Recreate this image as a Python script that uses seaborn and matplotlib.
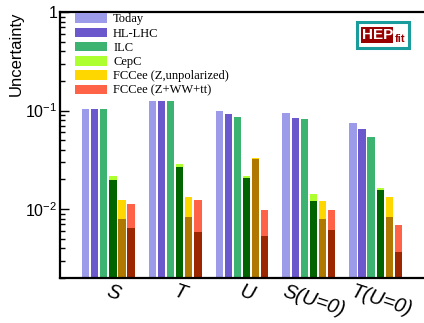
import numpy as np
import pandas as pd
import matplotlib
matplotlib.use("Agg")
import matplotlib.pyplot as plt
import matplotlib.ticker as mticker
from matplotlib.patches import Rectangle
from matplotlib.transforms import ScaledTranslation
import seaborn as sns

# --- data ---
params = ["S", "T", "U", "S(U=0)", "T(U=0)"]
series = ["Today", "HL-LHC", "ILC", "CepC",
          "FCCee (Z,unpolarized)", "FCCee (Z+WW+tt)"]

today = [0.103, 0.125, 0.098, 0.094, 0.074]
hl_lhc = [0.103, 0.125, 0.092, 0.084, 0.0655]
ilc = [0.103, 0.125, 0.086, 0.0815, 0.0534]
cepc_tot = [0.0219, 0.029, 0.0215, 0.0143, 0.0164]
cepc_par = [0.0196, 0.0268, 0.0205, 0.0122, 0.0155]
fccz_tot = [0.0124, 0.0134, 0.0331, 0.0122, 0.0134]
fccz_par = [0.0080, 0.0083, 0.0320, 0.0080, 0.0083]
fccall_tot = [0.0113, 0.0124, 0.0098, 0.0097, 0.0069]
fccall_par = [0.0064, 0.0059, 0.0053, 0.0061, 0.0037]

light = ["#9b9bea", "#6a58cc", "#3cb371", "#adff2f", "#ffd700", "#ff6347"]
dark = ["#9b9bea", "#6a58cc", "#3cb371", "#006400", "#b07800", "#9c2600"]

tot = pd.DataFrame({
    "param": params * 6,
    "series": np.repeat(series, len(params)),
    "value": today + hl_lhc + ilc + cepc_tot + fccz_tot + fccall_tot,
})
par = pd.DataFrame({
    "param": params * 6,
    "series": np.repeat(series, len(params)),
    "value": today + hl_lhc + ilc + cepc_par + fccz_par + fccall_par,
})

plt.rcParams["mathtext.fontset"] = "custom"
plt.rcParams["mathtext.rm"] = "Liberation Sans"
plt.rcParams["font.family"] = ["Liberation Sans", "DejaVu Sans"]

fig = plt.figure(figsize=(4.24, 3.23), dpi=100)
ax = fig.add_axes([60 / 424, 1 - 278 / 323, 364 / 424, 266 / 323])

common = dict(x="param", y="value", hue="series", order=params,
              hue_order=series, width=0.813, gap=0.16, saturation=1,
              errorbar=None, linewidth=0, ax=ax)
sns.barplot(data=tot, palette=light, **common)
sns.barplot(data=par, palette=dark, legend=False, **common)

ax.set_yscale("log")
ax.set_ylim(0.002, 1.0)
ax.set_xlim(-0.72, 4.72)

ax.yaxis.set_major_formatter(mticker.FuncFormatter(
    lambda v, pos: "1" if v >= 1 else rf"$10^{{{int(round(np.log10(v)))}}}$"))
ax.tick_params(axis="y", which="both", direction="in", left=True, right=False,
               labelsize=11.5, pad=2)
ax.tick_params(axis="y", which="major", length=6.5, width=1)
ax.tick_params(axis="y", which="minor", length=3.6, width=1)
ax.tick_params(axis="x", length=0, pad=3)

ax.set_xticks(range(len(params)))
ax.set_xticklabels(params, rotation=-18, ha="center", fontstyle="italic",
                   fontsize=14.5)
shift = ScaledTranslation(5 / 100, 0, fig.dpi_scale_trans)
for lbl in ax.get_xticklabels():
    lbl.set_transform(lbl.get_transform() + shift)

ax.set_xlabel("")
ax.set_ylabel("Uncertainty", loc="top", fontsize=12, labelpad=1)

for s in ["left", "bottom", "top"]:
    ax.spines[s].set_linewidth(1.6)
ax.spines["right"].set_visible(False)

sns.move_legend(ax, "upper left", bbox_to_anchor=(0.041, 0.995),
                frameon=False, title=None,
                prop=dict(family="Liberation Serif", size=9),
                handlelength=2.6, handleheight=0.8, labelspacing=0.17,
                handletextpad=0.45, borderaxespad=0, borderpad=0)

# HEPfit logo
fig.patches.append(Rectangle((357 / 424, 1 - 48.3 / 323), 52 / 424, 26.6 / 323,
                             transform=fig.transFigure, facecolor="white",
                             edgecolor="#1a9c9c", linewidth=2.2))
fig.patches.append(Rectangle((361 / 424, 1 - 43.3 / 323), 32 / 424, 16.6 / 323,
                             transform=fig.transFigure, facecolor="#990000",
                             edgecolor="none"))
fig.text(377.5 / 424, 1 - 35 / 323, "HEP", color="white", weight="bold",
         ha="center", va="center", size=11)
fig.text(400 / 424, 1 - 39 / 323, "fit", color="#990000", weight="bold",
         ha="center", va="center", size=8)

fig.savefig("out.png", dpi=100)
